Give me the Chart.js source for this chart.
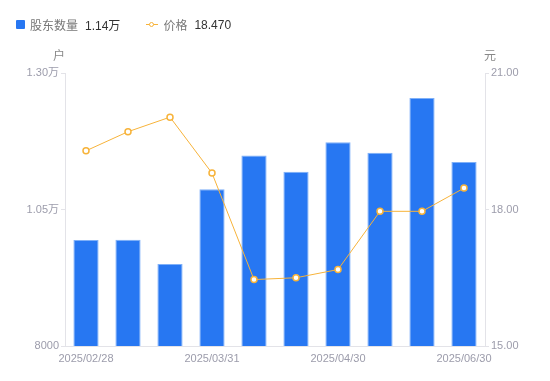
<!DOCTYPE html>
<html><head><meta charset="utf-8">
<script src="https://cdn.jsdelivr.net/npm/chart.js@4/dist/chart.umd.min.js"></script>
<style>
html,body{margin:0;padding:0;background:#fff;}
#wrap{position:relative;width:550px;height:381px;font-family:"Liberation Sans","Noto Sans CJK SC",sans-serif;}
#legend{position:absolute;left:16px;top:16px;font-size:12px;color:#777;display:flex;align-items:center;white-space:nowrap;}
#legend .sq{display:inline-block;width:9px;height:9px;background:#2777F2;border-radius:1px;margin-right:5px;}
#legend .val{color:#333;margin-left:7px;}
#legend .ln{display:inline-block;position:relative;width:12px;height:9px;margin-right:5px;margin-left:26px;}
#legend .ln:before{content:"";position:absolute;left:0;right:0;top:4px;height:1px;background:#F7B33A;}
#legend .ln:after{content:"";position:absolute;left:3px;top:1.5px;width:3px;height:3px;border:1.5px solid #F7B33A;border-radius:50%;background:#fff;}
canvas{position:absolute;left:0;top:0;}
</style></head>
<body><div id="wrap">
<canvas id="c" width="550" height="381"></canvas>
<div id="legend"><span class="sq"></span><span>股东数量</span><span class="val">1.14万</span><span class="ln"></span><span>价格</span><span class="val">18.470</span></div>
</div>
<script>
const categories = ["2025/02/28","2025/03/10","2025/03/20","2025/03/31","2025/04/10","2025/04/20","2025/04/30","2025/05/20","2025/06/10","2025/06/30"];
const holders = [9940, 9945, 9500, 10870, 11490, 11190, 11730, 11540, 12540, 11370];
const prices = [19.29, 19.71, 20.03, 18.80, 16.46, 16.50, 16.68, 17.96, 17.96, 18.47];
const leftTicks = [8000, 10500, 13000];
const rightTicks = [15, 18, 21];
const shownLabels = ["2025/02/28","2025/03/31","2025/04/30","2025/06/30"];

const tickColor = '#9c9cab';
const lineColor = '#e3e3e8';
const fontFam = '"Liberation Sans","Noto Sans CJK SC",sans-serif';

function fmtLeft(v){ return v >= 10000 ? (v/10000).toFixed(2) + '万' : String(v); }

const titlePlugin = {
  id: 'axisTitles',
  afterDraw(chart){
    const ctx = chart.ctx, a = chart.chartArea;
    ctx.save();
    ctx.fillStyle = '#888';
    ctx.font = '12px ' + fontFam;
    ctx.textBaseline = 'middle';
    ctx.textAlign = 'center';
    ctx.fillText('户', a.left - 6, 57);
    ctx.fillText('元', a.right + 5, 57);
    ctx.restore();
  }
};

new Chart(document.getElementById('c'), {
  data: {
    labels: categories,
    datasets: [
      { type: 'line', label: '价格', data: prices, yAxisID: 'y1',
        borderColor: '#F7B33A', borderWidth: 1, backgroundColor: '#fff',
        pointRadius: 3, pointBorderWidth: 1.5, pointBorderColor: '#F7B33A', pointBackgroundColor: '#fff',
        tension: 0, order: 0 },
      { type: 'bar', label: '股东数量', data: holders, yAxisID: 'y',
        backgroundColor: '#2777F2', borderColor: '#7fb0f8', borderWidth: {top:1,left:1,right:1,bottom:0},
        barPercentage: 0.6, categoryPercentage: 1, order: 1 }
    ]
  },
  options: {
    responsive: false, animation: false,
    layout: { padding: { top: 73, left: 0, right: 0, bottom: 0 } },
    plugins: { legend: { display: false }, tooltip: { enabled: false } },
    scales: {
      x: {
        offset: true,
        grid: { display: false, drawTicks: false },
        border: { display: true, color: lineColor },
        ticks: { autoSkip: false, maxRotation: 0, color: tickColor, padding: 6,
          font: { size: 11, family: fontFam },
          callback(v, i){ const l = categories[i]; return shownLabels.includes(l) ? l : ''; } },
        afterFit(s){ s.height = 35; }
      },
      y: {
        position: 'left', min: 8000, max: 13000,
        afterBuildTicks(s){ s.ticks = leftTicks.map(v => ({value: v})); },
        grid: { drawOnChartArea: false, drawTicks: true, tickLength: 4, color: lineColor },
        border: { display: true, color: lineColor },
        ticks: { color: tickColor, padding: 2, font: { size: 11, family: fontFam }, callback: v => fmtLeft(v) },
        afterFit(s){ s.width = 65; }
      },
      y1: {
        position: 'right', min: 15, max: 21,
        afterBuildTicks(s){ s.ticks = rightTicks.map(v => ({value: v})); },
        grid: { drawOnChartArea: false, drawTicks: true, tickLength: 4, color: lineColor },
        border: { display: true, color: lineColor },
        ticks: { color: tickColor, padding: 2, font: { size: 11, family: fontFam }, callback: v => v.toFixed(2) },
        afterFit(s){ s.width = 65; }
      }
    }
  },
  plugins: [titlePlugin]
});
</script>
</body></html>
